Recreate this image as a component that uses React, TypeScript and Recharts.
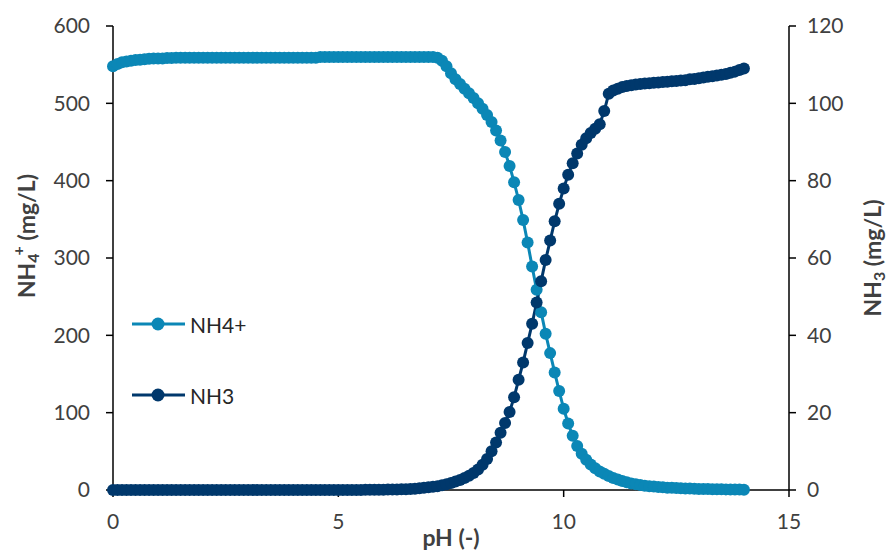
import React from "react";
import { ComposedChart, Line, XAxis, YAxis, Legend, Label } from "recharts";

const pHValues = [
  0, 0.1, 0.2, 0.3, 0.4, 0.5, 0.6, 0.7, 0.8, 0.9,
  1, 1.1, 1.2, 1.3, 1.4, 1.5, 1.6, 1.7, 1.8, 1.9,
  2, 2.1, 2.2, 2.3, 2.4, 2.5, 2.6, 2.7, 2.8, 2.9,
  3, 3.1, 3.2, 3.3, 3.4, 3.5, 3.6, 3.7, 3.8, 3.9,
  4, 4.1, 4.2, 4.3, 4.4, 4.5, 4.6, 4.7, 4.8, 4.9,
  5, 5.1, 5.2, 5.3, 5.4, 5.5, 5.6, 5.7, 5.8, 5.9,
  6, 6.1, 6.2, 6.3, 6.4, 6.5, 6.6, 6.7, 6.8, 6.9,
  7, 7.1, 7.2, 7.3, 7.4, 7.5, 7.6, 7.7, 7.8, 7.9,
  8, 8.1, 8.2, 8.3, 8.4, 8.5, 8.6, 8.7, 8.8, 8.9,
  9, 9.1, 9.2, 9.3, 9.4, 9.5, 9.6, 9.7, 9.8, 9.9,
  10, 10.1, 10.2, 10.3, 10.4, 10.5, 10.6, 10.7, 10.8, 10.9,
  11, 11.1, 11.2, 11.3, 11.4, 11.5, 11.6, 11.7, 11.8, 11.9,
  12, 12.1, 12.2, 12.3, 12.4, 12.5, 12.6, 12.7, 12.8, 12.9,
  13, 13.1, 13.2, 13.3, 13.4, 13.5, 13.6, 13.7, 13.8, 13.9,
  14,
];

const nh4Values = [
  548, 551, 553, 554, 555, 556, 556.5, 557, 557.5, 558,
  558, 558, 558.5, 558.5, 559, 559, 559, 559, 559, 559,
  559, 559, 559, 559, 559, 559, 559, 559, 559, 559,
  559, 559, 559, 559, 559, 559, 559, 559, 559, 559,
  559, 559, 559, 559, 559, 559, 560, 560, 560, 560,
  560, 560, 560, 560, 560, 560, 560, 560, 560, 560,
  560, 560, 560, 560, 560, 560, 560, 560, 560, 560,
  560, 560, 559, 555, 548, 539, 531, 525, 519, 513,
  507, 500, 493, 485, 476, 465, 452, 437, 419, 398,
  375, 349, 320, 289, 259, 230, 202, 177, 152, 128,
  105, 86, 70, 57, 47, 39, 33, 28, 24, 21,
  18, 15.5, 13.5, 11.5, 10, 8.5, 7.5, 6.5, 5.5, 5,
  4.5, 4, 3.5, 3, 2.8, 2.5, 2.2, 2, 1.8, 1.6,
  1.4, 1.3, 1.2, 1.1, 1.0, 0.9, 0.8, 0.7, 0.6, 0.5,
  0.4,
];

const nh3Values = [
  0, 0, 0, 0, 0, 0, 0, 0, 0, 0,
  0, 0, 0, 0, 0, 0, 0, 0, 0, 0,
  0, 0, 0, 0, 0, 0, 0, 0, 0, 0,
  0, 0, 0, 0, 0, 0, 0, 0, 0, 0,
  0, 0, 0, 0, 0, 0, 0, 0, 0, 0,
  0, 0, 0, 0, 0, 0, 0.05, 0.05, 0.06, 0.07,
  0.08, 0.1, 0.12, 0.15, 0.18, 0.22, 0.28, 0.35, 0.45, 0.55,
  0.7, 0.85, 1.0, 1.2, 1.5, 1.8, 2.2, 2.6, 3.1, 3.7,
  4.4, 5.3, 6.5, 8.0, 10.0, 12.3, 14.8, 17.3, 20.2, 24,
  28.5, 33, 38, 43, 48.5, 54, 59.5, 64.5, 69.5, 74,
  78, 81.5, 84.5, 87, 89.3, 91, 92.3, 93.4, 94.6, 98,
  102.5, 103.3, 103.8, 104.2, 104.5, 104.7, 104.9, 105.0, 105.1, 105.2,
  105.3, 105.4, 105.5, 105.6, 105.7, 105.8, 105.9, 106.0, 106.2, 106.3,
  106.5, 106.7, 106.9, 107.0, 107.2, 107.4, 107.6, 107.9, 108.2, 108.6,
  109.0,
];

const seriesNames = ["NH4+", "NH3"];
const xTicks = [0, 5, 10, 15];
const leftTicks = [0, 100, 200, 300, 400, 500, 600];
const rightTicks = [0, 20, 40, 60, 80, 100, 120];

const NH4_COLOR = "#0B87B6";
const NH3_COLOR = "#00386C";
const TEXT_COLOR = "#404040";
const FONT = "Lato, Carlito, Calibri, sans-serif";
const TITLE_SIZE = 23;

const data = pHValues.map((p, i) => ({ pH: p, nh4: nh4Values[i], nh3: nh3Values[i] }));

const tickStyle = { fill: TEXT_COLOR, fontSize: 21, fontFamily: FONT };
const axisLineStyle = { stroke: "#000", strokeWidth: 1.5 };

const LeftTitle = (props: any) => {
  const vb = props.viewBox || { x: 0, y: 26, width: 113, height: 464 };
  const cx = vb.x + 26;
  const cy = vb.y + vb.height / 2 - 22;
  return (
    <text
      x={cx}
      y={cy}
      transform={`rotate(-90 ${cx} ${cy})`}
      textAnchor="middle"
      dominantBaseline="central"
      fill={TEXT_COLOR}
      fontFamily={FONT}
      fontWeight="bold"
      fontSize={TITLE_SIZE}
    >
      <tspan>NH</tspan>
      <tspan fontSize={16} dy={6}>4</tspan>
      <tspan fontSize={16} dy={-15} dx={-2}>+</tspan>
      <tspan dy={9}> (mg/L)</tspan>
    </text>
  );
};

const RightTitle = (props: any) => {
  const vb = props.viewBox || { x: 789, y: 26, width: 100, height: 464 };
  const cx = vb.x + 83;
  const cy = vb.y + vb.height / 2;
  return (
    <text
      x={cx}
      y={cy}
      transform={`rotate(-90 ${cx} ${cy})`}
      textAnchor="middle"
      dominantBaseline="central"
      fill={TEXT_COLOR}
      fontFamily={FONT}
      fontWeight="bold"
      fontSize={TITLE_SIZE}
    >
      <tspan>NH</tspan>
      <tspan fontSize={16} dy={6}>3</tspan>
      <tspan dy={-6}> (mg/L)</tspan>
    </text>
  );
};

const BottomTitle = (props: any) => {
  const vb = props.viewBox || { x: 113, y: 490, width: 676, height: 60 };
  const cx = vb.x + vb.width / 2;
  const cy = vb.y + 56;
  return (
    <text
      x={cx}
      y={cy}
      textAnchor="middle"
      fill={TEXT_COLOR}
      fontFamily={FONT}
      fontWeight="bold"
      fontSize={TITLE_SIZE}
    >
      pH (-)
    </text>
  );
};

const LegendContent = (props: any) => {
  const payload = [...(props.payload || [])].sort(
    (a: any, b: any) => seriesNames.indexOf(a.value) - seriesNames.indexOf(b.value)
  );
  return (
    <div style={{ fontFamily: FONT }}>
      {payload.map((entry: any, i: number) => (
        <div
          key={i}
          style={{ display: "flex", alignItems: "center", height: 30, marginBottom: i === 0 ? 41 : 0 }}
        >
          <svg width={56} height={30} style={{ display: "block" }}>
            <line x1={0} y1={15} x2={53} y2={15} stroke={entry.color} strokeWidth={3} />
            <circle cx={26} cy={15} r={6.5} fill={entry.color} />
          </svg>
          <span style={{ fontSize: 21, color: "#262626", marginLeft: 2 }}>{entry.value}</span>
        </div>
      ))}
    </div>
  );
};

export default function App() {
  return (
    <div style={{ position: "absolute", left: 0, top: 0, width: 889, height: 550, background: "#fff" }}>
      <ComposedChart width={889} height={550} data={data} margin={{ top: 26, right: 0, bottom: 0, left: 0 }}>
        <XAxis
          dataKey="pH"
          type="number"
          domain={[0, 15]}
          ticks={xTicks}
          tick={tickStyle}
          tickSize={7}
          tickMargin={17}
          axisLine={axisLineStyle}
          tickLine={axisLineStyle}
          height={60}
        >
          <Label content={<BottomTitle />} />
        </XAxis>
        <YAxis
          yAxisId="left"
          orientation="left"
          domain={[0, 600]}
          ticks={leftTicks}
          tick={tickStyle}
          tickSize={7}
          tickMargin={16}
          axisLine={axisLineStyle}
          tickLine={axisLineStyle}
          width={113}
        >
          <Label content={<LeftTitle />} />
        </YAxis>
        <YAxis
          yAxisId="right"
          orientation="right"
          domain={[0, 120]}
          ticks={rightTicks}
          tick={tickStyle}
          tickSize={7}
          tickMargin={11}
          axisLine={axisLineStyle}
          tickLine={axisLineStyle}
          width={100}
        >
          <Label content={<RightTitle />} />
        </YAxis>
        <Legend
          layout="vertical"
          align="center"
          verticalAlign="middle"
          content={<LegendContent />}
          wrapperStyle={{ left: 132, top: 309, width: 160 }}
        />
        <Line
          yAxisId="left"
          dataKey="nh4"
          name="NH4+"
          type="linear"
          stroke={NH4_COLOR}
          strokeWidth={3}
          dot={{ r: 6, fill: NH4_COLOR, stroke: NH4_COLOR, strokeWidth: 0 }}
          activeDot={false}
          isAnimationActive={false}
          legendType="circle"
        />
        <Line
          yAxisId="right"
          dataKey="nh3"
          name="NH3"
          type="linear"
          stroke={NH3_COLOR}
          strokeWidth={3}
          dot={{ r: 6, fill: NH3_COLOR, stroke: NH3_COLOR, strokeWidth: 0 }}
          activeDot={false}
          isAnimationActive={false}
          legendType="circle"
        />
      </ComposedChart>
    </div>
  );
}
